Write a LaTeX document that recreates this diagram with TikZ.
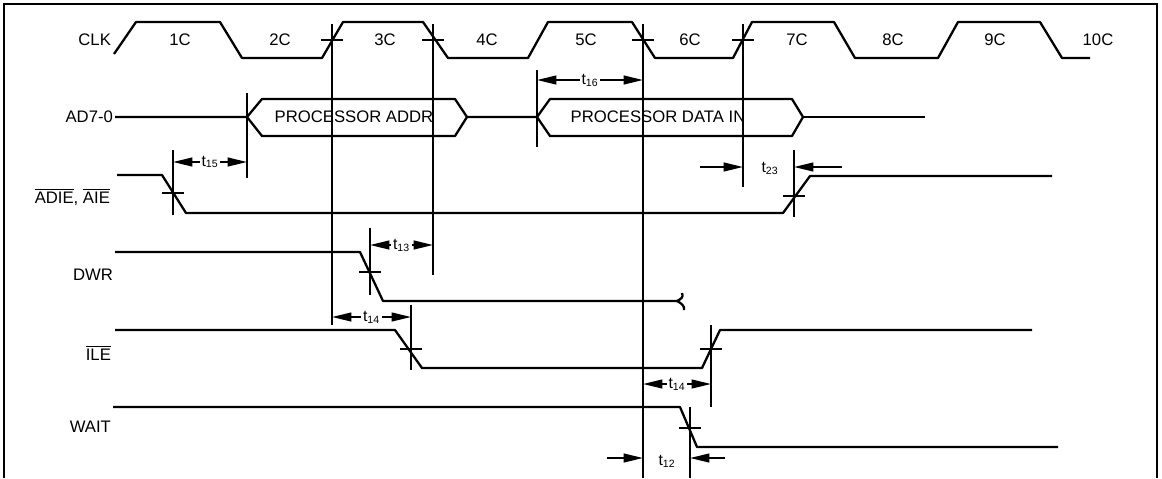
\documentclass[tikz,border=0pt]{standalone}
\usepackage{fontspec}
\setmainfont{Liberation Sans}
\usetikzlibrary{arrows.meta}
\tikzset{
    sig/.style={line width=1.3pt, line join=round}, % signal traces
    guide/.style={line width=1.15pt}, % vertical timing references
    xmark/.style={line width=1.15pt}, % crossing ticks
    dimarr/.style={line width=1pt, {Triangle[length=11pt,width=5pt]}-{Triangle[length=11pt,width=5pt]}},
    inarr/.style={line width=1pt, -{Triangle[length=11pt,width=5pt]}},
    sname/.style={anchor=east, inner sep=1pt, font=\fontsize{9.5}{11}\selectfont},
    tname/.style={fill=white, inner sep=1pt, font=\fontsize{9}{10}\selectfont}
}
\newcommand{\ovl}[1]{$\overline{\mbox{#1}}$}

\begin{document}
\begin{tikzpicture}[x=0.02cm, y=-0.02cm, font=\fontsize{9.5}{11}\selectfont]
    \useasboundingbox (0,0) rectangle (1162,478);
    % frame
    \draw[line width=1.5pt] (4,478) -- (4,4) -- (1157,4) -- (1157,478);

    % signal names
    \node[sname] (clk)  at (113,40)  {CLK};
    \node[sname] (ad)   at (115,117) {AD7-0};
    \node[sname] (adie) at (112,197) {\ovl{ADIE}, \ovl{AIE}};
    \node[sname] (dwr)  at (115,275) {DWR};
    \node[sname] (ile)  at (113,353) {\ovl{ILE}};
    \node[sname] (wait) at (113,427) {WAIT};

    % clock
    \draw[sig] (114,54) -- (136,22) -- (220,22) -- (242,58) -- (322,58) -- (343,22) -- (423,22) -- (448,58)
        -- (528,58) -- (548,22) -- (632,22) -- (655,58) -- (733,58) -- (752,22) -- (834,22) -- (855,58)
        -- (938,58) -- (958,22) -- (1040,22) -- (1062,58) -- (1090,58);
    \foreach \x/\t in {180/1C, 280/2C, 385/3C, 487/4C, 586/5C, 690/6C, 797/7C, 893/8C, 995/9C, 1098/10C}
        {\node (c\t) at (\x,40) {\t};}

    % bus
    \draw[sig] (115,117) -- (247,117) -- (262,99) -- (455,99) -- (467,117) -- (455,136) -- (262,136) -- (247,117);
    \draw[sig] (467,117) -- (537,117) -- (550,99) -- (792,99) -- (803,117) -- (792,136) -- (550,136) -- (537,117);
    \draw[sig] (803,117) -- (925,117);
    \node (addr)   at (354,117) {PROCESSOR ADDR};
    \node (datain) at (658,117) {PROCESSOR DATA IN};

    % control lines
    \draw[sig] (117,175) -- (162,175) -- (186,213) -- (783,213) -- (810,176) -- (1052,176);
    \draw[sig] (115,252) -- (360,252) -- (383,301) -- (677,301);
    \draw[sig] (677,301) .. controls (681,299) and (684,297) .. (682,293);
    \draw[sig] (677,301) .. controls (681,303) and (685,306) .. (684,310);
    \draw[sig] (115,330) -- (395,330) -- (422,368) -- (702,368) -- (720,330) -- (1032,330);
    \draw[sig] (113,407) -- (680,407) -- (697,447) -- (1058,447);

    % references and crossings
    \foreach \x/\ya/\yb in {332/24/325, 433/24/275, 643/24/478, 743/24/187, 537/70/147, 247/93/178,
        173/150/215, 794/150/217, 370/228/295, 411/305/370, 711/325/407, 690/407/478}
        {\draw[guide] (\x,\ya) -- (\x,\yb);}
    \foreach \x/\y in {332/40, 433/40, 643/40, 743/40, 173/193, 794/196, 370/272, 411/349, 711/349, 690/428}
        {\draw[xmark] (\x-11,\y) -- (\x+11,\y);}

    % timing parameters
    \draw[dimarr] (537,80) -- (643,80) node[tname, midway] (t16) {t\textsubscript{16}};
    \draw[dimarr] (173,162) -- (247,162) node[tname, midway] (t15) {t\textsubscript{15}};
    \draw[dimarr] (370,245) -- (433,245) node[tname, midway] (t13) {t\textsubscript{13}};
    \draw[dimarr] (332,317) -- (411,317) node[tname, midway] (t14a) {t\textsubscript{14}};
    \draw[dimarr] (643,384) -- (711,384) node[tname, midway] (t14b) {t\textsubscript{14}};
    \draw[inarr] (700,167) -- (743,167);
    \draw[inarr] (842,167) -- (794,167);
    \node[tname] (t23) at (770,168) {t\textsubscript{23}};
    \draw[inarr] (607,458) -- (643,458);
    \draw[inarr] (725,458) -- (690,458);
    \node[tname] (t12) at (667,461) {t\textsubscript{12}};
\end{tikzpicture}
\end{document}
